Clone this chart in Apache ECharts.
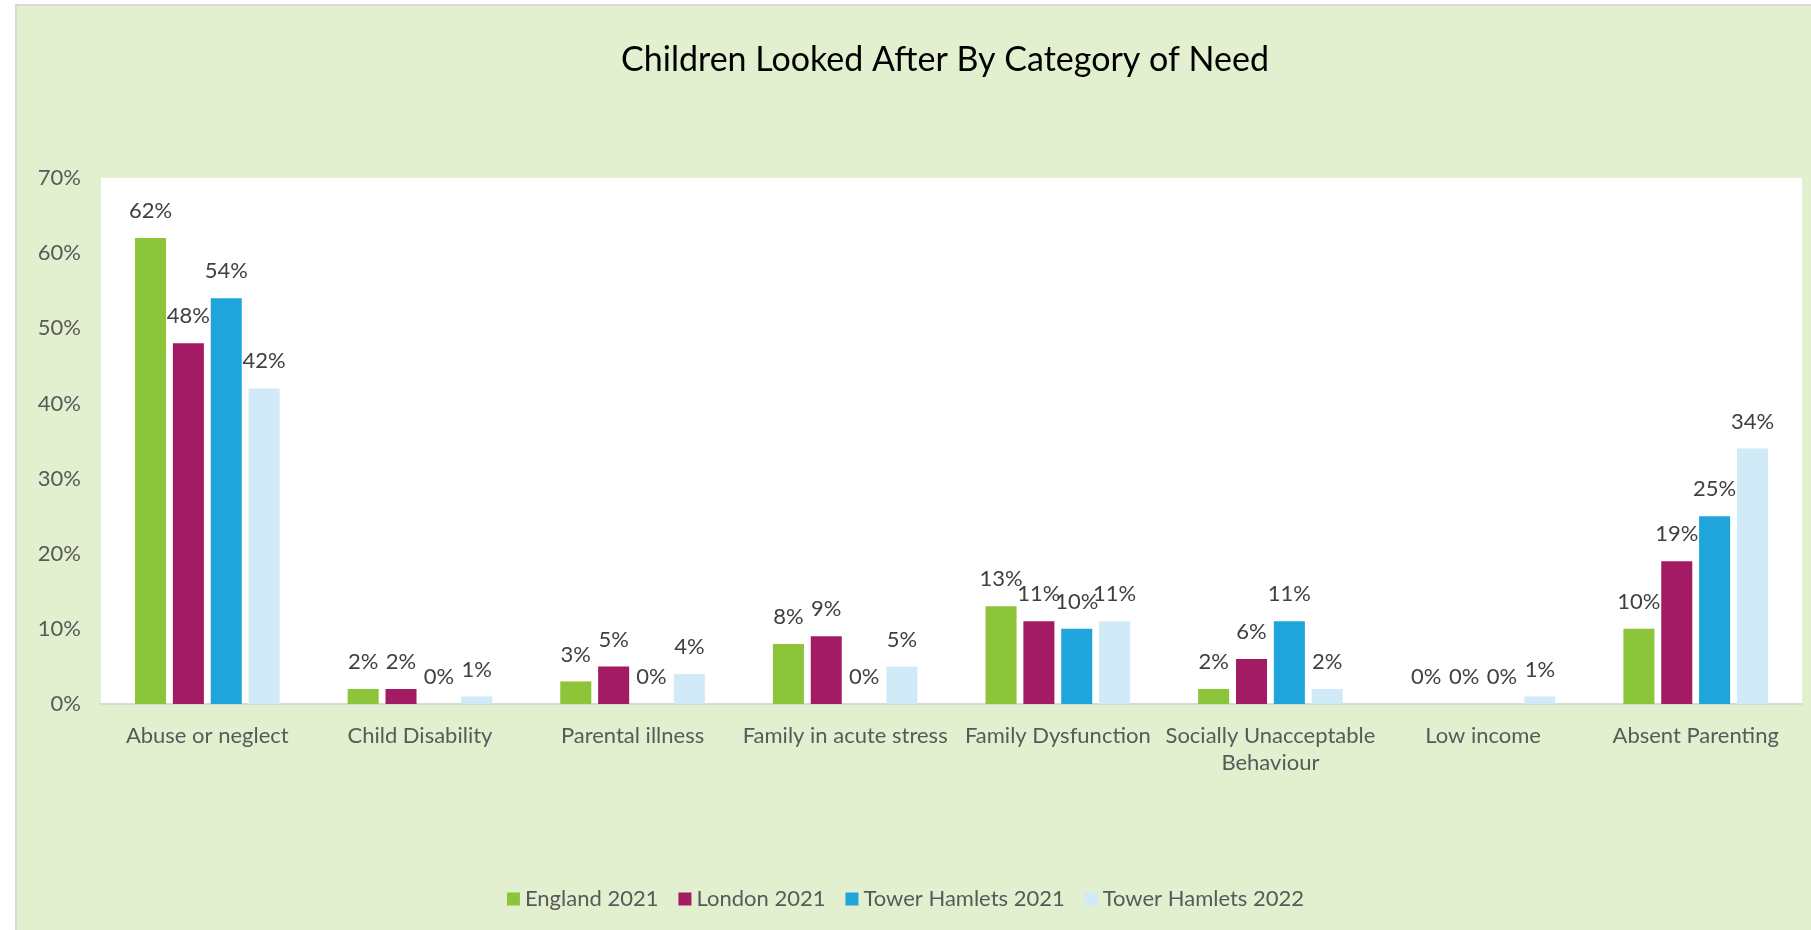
<!DOCTYPE html>
<html>
<head>
<meta charset="utf-8">
<title>Children Looked After By Category of Need</title>
<script src="https://cdn.jsdelivr.net/npm/echarts@6/dist/echarts.min.js"></script>
<style>
  html, body { margin: 0; padding: 0; width: 1811px; height: 930px; overflow: hidden; background: #ffffff; }
  #panel {
    position: absolute; left: 15px; top: 4px; width: 1900px; height: 1000px;
    background: #E2F0D0; border-left: 2.5px solid #D9D9D9; border-top: 2.5px solid #D9D9D9;
  }
  #chart { position: absolute; left: 0; top: 0; width: 1811px; height: 930px; }
</style>
</head>
<body>
<div id="panel"></div>
<div id="chart"></div>
<script>
// Category of need (x axis)
const categories = [
  'Abuse or neglect',
  'Child Disability',
  'Parental illness',
  'Family in acute stress',
  'Family Dysfunction',
  'Socially Unacceptable\nBehaviour',
  'Low income',
  'Absent Parenting'
];

// Share of children looked after, in percent
const england2021      = [62, 2, 3, 8, 13, 2, 0, 10];
const london2021       = [48, 2, 5, 9, 11, 6, 0, 19];
const towerHamlets2021 = [54, 0, 0, 0, 10, 11, 0, 25];
const towerHamlets2022 = [42, 1, 4, 5, 11, 2, 1, 34];

const seriesNames = ['England 2021', 'London 2021', 'Tower Hamlets 2021', 'Tower Hamlets 2022'];
const seriesColors = ['#8CC43A', '#A31B62', '#20A4DC', '#D0EAF7'];
const seriesData = [england2021, london2021, towerHamlets2021, towerHamlets2022];

const FONT = 'Lato, "Open Sans", sans-serif';

const chart = echarts.init(document.getElementById('chart'), null, { renderer: 'canvas' });

chart.setOption({
  backgroundColor: 'transparent',
  animation: false,
  textStyle: { fontFamily: FONT },
  title: {
    text: 'Children Looked After By Category of Need',
    left: 940,
    top: 38,
    textAlign: 'center',
    textStyle: { fontFamily: FONT, fontSize: 34, fontWeight: 'normal', color: '#000000' }
  },
  legend: {
    data: seriesNames,
    left: 'center',
    top: 883,
    itemWidth: 13,
    itemHeight: 13,
    itemGap: 20,
    icon: 'rect',
    textStyle: { fontFamily: FONT, fontSize: 22, color: '#595959', padding: [0, 0, 0, 0] }
  },
  grid: {
    left: 101,
    right: 9,
    top: 178,
    bottom: 226,
    show: true,
    backgroundColor: '#ffffff',
    borderWidth: 0,
    containLabel: false
  },
  xAxis: {
    type: 'category',
    data: categories,
    axisLine: { show: true, lineStyle: { color: '#D9D9D9', width: 2 } },
    axisTick: { show: false },
    axisLabel: {
      interval: 0,
      margin: 18,
      fontFamily: FONT,
      fontSize: 22,
      lineHeight: 27,
      color: '#595959'
    },
    splitLine: { show: false }
  },
  yAxis: {
    type: 'value',
    min: 0,
    max: 70,
    interval: 10,
    axisLine: { show: false },
    axisTick: { show: false },
    splitLine: { show: false },
    axisLabel: {
      formatter: '{value}%',
      margin: 20,
      fontFamily: FONT,
      fontSize: 22,
      color: '#595959'
    }
  },
  series: seriesNames.map((name, i) => ({
    name: name,
    type: 'bar',
    data: seriesData[i],
    barGap: '22%',
    barCategoryGap: '32%',
    itemStyle: { color: seriesColors[i] },
    label: {
      show: true,
      position: 'top',
      distance: 16,
      formatter: '{c}%',
      fontFamily: FONT,
      fontSize: 22,
      color: '#404040'
    }
  }))
});
</script>
</body>
</html>
